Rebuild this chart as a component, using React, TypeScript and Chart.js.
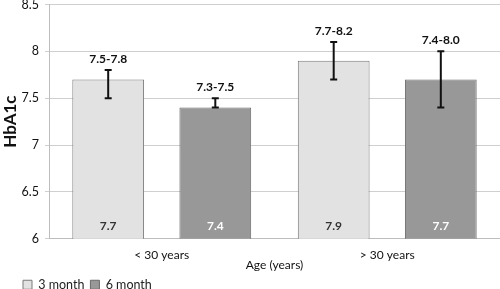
import React, { useEffect, useRef } from "react";
import { Chart, registerables } from "chart.js";
Chart.register(...registerables);

const categories = ["< 30 years", "> 30 years"];
const seriesNames = ["3 month", "6 month"];
const month3 = [7.7, 7.9];
const month6 = [7.4, 7.7];
const month3Low = [7.5, 7.7];
const month3High = [7.8, 8.1];
const month6Low = [7.4, 7.4];
const month6High = [7.5, 8.0];
const month3Range = ["7.5-7.8", "7.7-8.2"];
const month6Range = ["7.3-7.5", "7.4-8.0"];
const yTicks = [6, 6.5, 7, 7.5, 8, 8.5];

const FONT = "Lato, 'Liberation Sans', sans-serif";

const errorPlugin = {
  id: "errorBars",
  afterDatasetsDraw(chart: any) {
    const ctx = chart.ctx;
    const y = chart.scales.y;
    const extra = [
      { low: month3Low, high: month3High, range: month3Range, values: month3, valColor: "#333333" },
      { low: month6Low, high: month6High, range: month6Range, values: month6, valColor: "#ffffff" },
    ];
    chart.data.datasets.forEach((ds: any, di: number) => {
      const meta = chart.getDatasetMeta(di);
      const e = extra[di];
      meta.data.forEach((bar: any, i: number) => {
        const x = bar.x;
        const yl = y.getPixelForValue(e.low[i]);
        const yh = y.getPixelForValue(e.high[i]);
        ctx.save();
        ctx.strokeStyle = "#111111";
        ctx.lineWidth = 2;
        ctx.beginPath();
        ctx.moveTo(x, yl);
        ctx.lineTo(x, yh);
        ctx.moveTo(x - 3.5, yl);
        ctx.lineTo(x + 3.5, yl);
        ctx.moveTo(x - 3.5, yh);
        ctx.lineTo(x + 3.5, yh);
        ctx.stroke();
        ctx.font = "bold 12px " + FONT;
        ctx.fillStyle = "#111111";
        ctx.textAlign = "center";
        ctx.textBaseline = "bottom";
        ctx.fillText(e.range[i], x, yh - 5);
        ctx.fillStyle = e.valColor;
        ctx.textBaseline = "middle";
        ctx.fillText(String(e.values[i]), x, y.getPixelForValue(6) - 13);
        ctx.restore();
      });
    });
  },
};

const legendShift = {
  id: "legendShift",
  afterLayout(chart: any) {
    if (chart.legend) chart.legend.left += 17;
  },
};

export default function App() {
  const ref = useRef<HTMLCanvasElement>(null);
  useEffect(() => {
    document.body.style.margin = "0";
    document.body.style.overflow = "hidden";
    const chart = new Chart(ref.current!, {
      type: "bar",
      data: {
        labels: categories,
        datasets: [
          {
            label: seriesNames[0],
            data: month3,
            backgroundColor: "#e2e2e2",
            borderColor: "#7a7a7a",
            borderWidth: 1,
            barPercentage: 0.67,
            categoryPercentage: 0.95,
          },
          {
            label: seriesNames[1],
            data: month6,
            backgroundColor: "#989898",
            borderColor: "#6a6a6a",
            borderWidth: 1,
            barPercentage: 0.67,
            categoryPercentage: 0.95,
          },
        ],
      },
      options: {
        animation: false,
        responsive: false,
        maintainAspectRatio: false,
        layout: { padding: { top: -4, right: 0, left: 0, bottom: -12 } },
        plugins: {
          tooltip: { enabled: false },
          legend: {
            position: "bottom",
            align: "start",
            labels: {
              boxWidth: 9,
              boxHeight: 9,
              padding: 6,
              color: "#222222",
              font: { family: FONT, size: 12.5 },
            },
          },
        },
        scales: {
          x: {
            grid: { display: false, drawTicks: false },
            border: { color: "#bdbdbd" },
            ticks: { color: "#111111", font: { family: FONT, size: 12 }, padding: 9 },
            title: {
              display: true,
              text: "Age (years)",
              color: "#111111",
              font: { family: FONT, size: 12 },
              padding: { top: -13, bottom: 0 },
            },
          },
          y: {
            min: 6,
            max: 8.5,
            afterBuildTicks: (s: any) => {
              s.ticks = yTicks.map((v) => ({ value: v }));
            },
            afterFit: (s: any) => {
              s.width = 49;
            },
            grid: { color: "#cfcfcf", tickLength: 4 },
            border: { color: "#bdbdbd" },
            ticks: {
              color: "#111111",
              font: { family: FONT, size: 12.5 },
              padding: 6,
              callback: (v: any) => String(v),
            },
            title: {
              display: true,
              text: "HbA1c",
              color: "#111111",
              font: { family: FONT, size: 17, weight: "bold" },
              padding: 0,
            },
          },
        },
      },
      plugins: [errorPlugin, legendShift],
    } as any);
    return () => chart.destroy();
  }, []);
  return (
    <div style={{ position: "absolute", left: 0, top: -9, width: 500, height: 298, overflow: "hidden" }}>
      <canvas ref={ref} width={500} height={298} />
    </div>
  );
}
